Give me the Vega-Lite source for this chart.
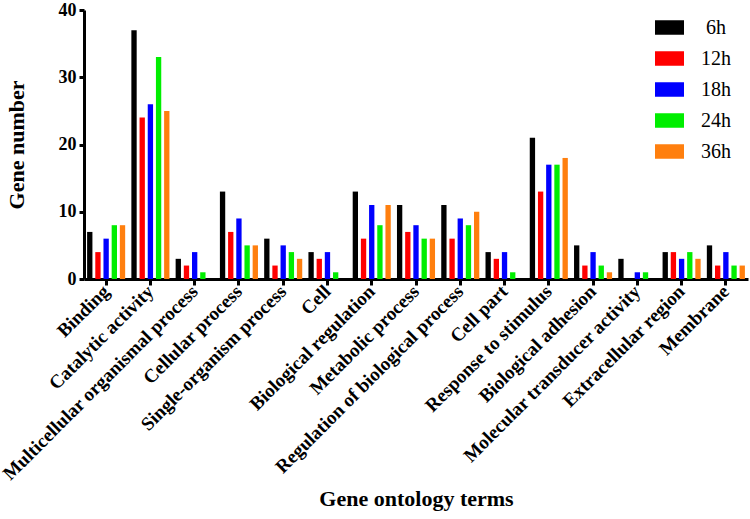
{
  "$schema": "https://vega.github.io/schema/vega-lite/v6.json",
  "width": 664,
  "height": 269,
  "autosize": {"type": "none"},
  "padding": {"left": 84, "top": 10, "right": 2, "bottom": 240},
  "background": "white",
  "config": {
    "view": {"stroke": null},
    "font": "Liberation Serif, Times New Roman, serif"
  },
  "data": {
    "values": [
      {"term": "Binding", "time": "6h", "n": 7}, {"term": "Binding", "time": "12h", "n": 4}, {"term": "Binding", "time": "18h", "n": 6}, {"term": "Binding", "time": "24h", "n": 8}, {"term": "Binding", "time": "36h", "n": 8},
      {"term": "Catalytic activity", "time": "6h", "n": 37}, {"term": "Catalytic activity", "time": "12h", "n": 24}, {"term": "Catalytic activity", "time": "18h", "n": 26}, {"term": "Catalytic activity", "time": "24h", "n": 33}, {"term": "Catalytic activity", "time": "36h", "n": 25},
      {"term": "Multicellular organismal process", "time": "6h", "n": 3}, {"term": "Multicellular organismal process", "time": "12h", "n": 2}, {"term": "Multicellular organismal process", "time": "18h", "n": 4}, {"term": "Multicellular organismal process", "time": "24h", "n": 1}, {"term": "Multicellular organismal process", "time": "36h", "n": 0},
      {"term": "Cellular process", "time": "6h", "n": 13}, {"term": "Cellular process", "time": "12h", "n": 7}, {"term": "Cellular process", "time": "18h", "n": 9}, {"term": "Cellular process", "time": "24h", "n": 5}, {"term": "Cellular process", "time": "36h", "n": 5},
      {"term": "Single-organism process", "time": "6h", "n": 6}, {"term": "Single-organism process", "time": "12h", "n": 2}, {"term": "Single-organism process", "time": "18h", "n": 5}, {"term": "Single-organism process", "time": "24h", "n": 4}, {"term": "Single-organism process", "time": "36h", "n": 3},
      {"term": "Cell", "time": "6h", "n": 4}, {"term": "Cell", "time": "12h", "n": 3}, {"term": "Cell", "time": "18h", "n": 4}, {"term": "Cell", "time": "24h", "n": 1}, {"term": "Cell", "time": "36h", "n": 0},
      {"term": "Biological regulation", "time": "6h", "n": 13}, {"term": "Biological regulation", "time": "12h", "n": 6}, {"term": "Biological regulation", "time": "18h", "n": 11}, {"term": "Biological regulation", "time": "24h", "n": 8}, {"term": "Biological regulation", "time": "36h", "n": 11},
      {"term": "Metabolic process", "time": "6h", "n": 11}, {"term": "Metabolic process", "time": "12h", "n": 7}, {"term": "Metabolic process", "time": "18h", "n": 8}, {"term": "Metabolic process", "time": "24h", "n": 6}, {"term": "Metabolic process", "time": "36h", "n": 6},
      {"term": "Regulation of biological process", "time": "6h", "n": 11}, {"term": "Regulation of biological process", "time": "12h", "n": 6}, {"term": "Regulation of biological process", "time": "18h", "n": 9}, {"term": "Regulation of biological process", "time": "24h", "n": 8}, {"term": "Regulation of biological process", "time": "36h", "n": 10},
      {"term": "Cell part", "time": "6h", "n": 4}, {"term": "Cell part", "time": "12h", "n": 3}, {"term": "Cell part", "time": "18h", "n": 4}, {"term": "Cell part", "time": "24h", "n": 1}, {"term": "Cell part", "time": "36h", "n": 0},
      {"term": "Response to stimulus", "time": "6h", "n": 21}, {"term": "Response to stimulus", "time": "12h", "n": 13}, {"term": "Response to stimulus", "time": "18h", "n": 17}, {"term": "Response to stimulus", "time": "24h", "n": 17}, {"term": "Response to stimulus", "time": "36h", "n": 18},
      {"term": "Biological adhesion", "time": "6h", "n": 5}, {"term": "Biological adhesion", "time": "12h", "n": 2}, {"term": "Biological adhesion", "time": "18h", "n": 4}, {"term": "Biological adhesion", "time": "24h", "n": 2}, {"term": "Biological adhesion", "time": "36h", "n": 1},
      {"term": "Molecular transducer activity", "time": "6h", "n": 3}, {"term": "Molecular transducer activity", "time": "12h", "n": 0}, {"term": "Molecular transducer activity", "time": "18h", "n": 1}, {"term": "Molecular transducer activity", "time": "24h", "n": 1}, {"term": "Molecular transducer activity", "time": "36h", "n": 0},
      {"term": "Extracellular region", "time": "6h", "n": 4}, {"term": "Extracellular region", "time": "12h", "n": 4}, {"term": "Extracellular region", "time": "18h", "n": 3}, {"term": "Extracellular region", "time": "24h", "n": 4}, {"term": "Extracellular region", "time": "36h", "n": 3},
      {"term": "Membrane", "time": "6h", "n": 5}, {"term": "Membrane", "time": "12h", "n": 2}, {"term": "Membrane", "time": "18h", "n": 4}, {"term": "Membrane", "time": "24h", "n": 2}, {"term": "Membrane", "time": "36h", "n": 2}
    ]
  },
  "mark": {"type": "bar"},
  "encoding": {
    "x": {
      "field": "term",
      "type": "nominal",
      "sort": null,
      "scale": {"paddingInner": 0.14, "paddingOuter": 0.07},
      "axis": {
        "title": "Gene ontology terms",
        "titleFont": "Liberation Serif, Times New Roman, serif",
        "titleFontSize": 22,
        "titleFontWeight": "bold",
        "titleColor": "black",
        "titleY": 226,
        "titleBaseline": "alphabetic",
        "labelFont": "Liberation Serif, Times New Roman, serif",
        "labelFontSize": 19,
        "labelFontWeight": "bold",
        "labelColor": "black",
        "labelAngle": -45,
        "labelAlign": "right",
        "labelBaseline": "middle",
        "labelPadding": 3,
        "labelLimit": 400,
        "domainColor": "black",
        "domainWidth": 3,
        "tickColor": "black",
        "tickWidth": 3,
        "tickSize": 6
      }
    },
    "xOffset": {
      "field": "time",
      "type": "nominal",
      "sort": ["6h", "12h", "18h", "24h", "36h"],
      "scale": {"paddingInner": 0.35, "paddingOuter": 0}
    },
    "y": {
      "field": "n",
      "type": "quantitative",
      "scale": {"domain": [0, 40], "nice": false},
      "axis": {
        "title": "Gene number",
        "titleFont": "Liberation Serif, Times New Roman, serif",
        "titleFontSize": 22,
        "titleFontWeight": "bold",
        "titleColor": "black",
        "titleAngle": -90,
        "titleX": -61,
        "titleY": 134.5,
        "titleAlign": "center",
        "titleBaseline": "alphabetic",
        "values": [0, 10, 20, 30, 40],
        "grid": false,
        "labelFont": "Liberation Serif, Times New Roman, serif",
        "labelFontSize": 18,
        "labelFontWeight": "bold",
        "labelColor": "black",
        "labelPadding": 3,
        "domainColor": "black",
        "domainWidth": 3,
        "tickColor": "black",
        "tickWidth": 3,
        "tickSize": 5
      }
    },
    "color": {
      "field": "time",
      "type": "nominal",
      "sort": ["6h", "12h", "18h", "24h", "36h"],
      "scale": {
        "domain": ["6h", "12h", "18h", "24h", "36h"],
        "range": ["#000000", "#ff0000", "#0000ff", "#00ee00", "#ff7f0e"]
      },
      "legend": {
        "title": null,
        "orient": "none",
        "legendX": 571,
        "legendY": 3,
        "symbolType": "M-1,-0.5H1V0.5H-1Z",
        "symbolSize": 841,
        "symbolStrokeWidth": 0,
        "symbolOpacity": 1,
        "labelFont": "Liberation Serif, Times New Roman, serif",
        "labelFontSize": 20,
        "labelColor": "black",
        "labelAlign": "center",
        "labelOffset": 32,
        "rowPadding": 6
      }
    }
  }
}
